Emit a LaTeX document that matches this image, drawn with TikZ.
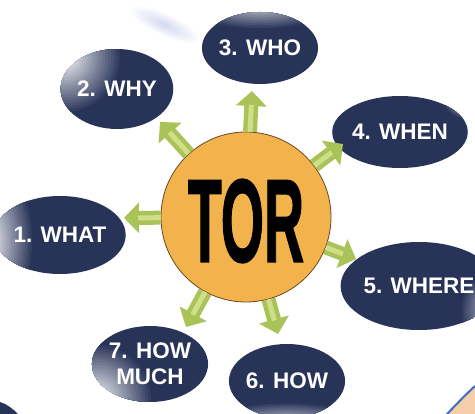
\documentclass[tikz,border=0pt]{standalone}
\usepackage{fontspec}
\setmainfont{Liberation Sans}
\newfontface\torfont{Liberation Sans Bold}[FakeBold=1.5]
\usetikzlibrary{shapes.geometric,arrows.meta,calc}
\definecolor{navy}{RGB}{40,51,88}
\definecolor{torfill}{RGB}{243,179,76}
\definecolor{torline}{RGB}{105,70,35}
\definecolor{arrmid}{RGB}{170,195,88}
\definecolor{arrlight}{RGB}{208,222,138}
\definecolor{peach}{RGB}{246,205,170}
\definecolor{edgeblue}{RGB}{60,110,190}
\definecolor{wisp}{RGB}{210,216,240}
% radial blob made of stacked opaque ellipses: centre, rx, ry, outer colour, inner colour
\newcommand\radblob[5]{%
  \foreach \k [evaluate=\k as \q using int(5*\k), evaluate=\k as \s using 1-\k/20] in {0,...,19}{%
    \fill[#5!\q!#4] #1 ellipse ({#2*\s} and {#3*\s});}}
\begin{document}
\begin{tikzpicture}[x=1pt,y=-1pt,
  q/.style={ellipse, fill=navy, text=white, inner sep=0pt, align=center,
    font=\bfseries\fontsize{22.5}{26}\selectfont},
  garrow/.style={line width=14pt, draw=arrmid, -{Triangle[length=15pt,width=30pt]}},
  ghl/.style={line width=5pt, draw=arrlight, shorten >=14pt}]
\useasboundingbox (0,0) rectangle (475,414);
\fill[white] (0,0) rectangle (475,414);
% faint wisp top
\begin{scope}[rotate around={-25:(165,25)}]
\radblob{(165,25)}{40}{11}{white}{wisp}
\end{scope}
% bottom corner pieces
\fill[peach] (475,386) .. controls (462,398) and (455,406) .. (447,414) -- (475,414) -- cycle;
\draw[edgeblue, line width=2pt] (475,386) .. controls (462,398) and (455,406) .. (447,414);
\fill[navy] (0,402) .. controls (7,404) and (13,409) .. (18,414) -- (0,414) -- cycle;

% ellipses
\node[q, minimum width=106pt, minimum height=72pt,
  path picture={\radblob{($(path picture bounding box.north)+(0,-14)$)}{84}{32}{navy}{white}}]
  (who) at (260,48) {3. WHO};
\node[q, minimum width=104pt, minimum height=80pt,
  path picture={\radblob{($(path picture bounding box.north west)+(4,8)$)}{58}{58}{navy}{white}}]
  (why) at (117,89) {2. WHY};
\node[q, minimum width=106pt, minimum height=72pt,
  path picture={\radblob{($(path picture bounding box.north east)+(-2,0)$)}{24}{24}{navy}{white}}]
  (when) at (400,132) {4. WHEN};
\node[q, minimum width=100pt, minimum height=78pt,
  path picture={\radblob{($(path picture bounding box.west)+(-6,6)$)}{46}{85}{navy}{white}}]
  (what) at (60,235) {1. WHAT};
\node[q, minimum width=112pt, minimum height=88pt,
  path picture={\radblob{($(path picture bounding box.south east)+(6,-20)$)}{44}{44}{navy}{white}}]
  (where) at (419,286) {5. WHERE};
\node[q, minimum width=104pt, minimum height=76pt,
  path picture={\radblob{($(path picture bounding box.south west)+(4,-2)$)}{58}{58}{navy}{white}}]
  (howmuch) at (150,364) {7. HOW\\MUCH};
\node[q, minimum width=110pt, minimum height=74pt,
  path picture={\radblob{($(path picture bounding box.south)+(0,12)$)}{90}{28}{navy}{white}}]
  (how) at (287,381) {\raisebox{-4pt}{6. HOW}};

% centre
\node[circle, fill=torfill, draw=torline, line width=0.8pt, minimum size=170pt, inner sep=0pt]
  (tor) at (246,217) {};
\node[inner sep=0pt, xscale=0.47, font=\torfont\fontsize{118}{118}\selectfont] (tortext) at (246,221) {TOR};

% arrow tips
\coordinate (t1) at (124,218);
\coordinate (t2) at (160,122);
\coordinate (t3) at (252,91);
\coordinate (t4) at (343,144);
\coordinate (t5) at (356,259);
\coordinate (t6) at (278,334);
\coordinate (t7) at (186,327);
\foreach \t in {t1,t2,t3,t4,t5,t6,t7}{
  \draw[garrow] (tor) -- (\t);
  \draw[ghl] (tor) -- (\t);
}
\end{tikzpicture}
\end{document}
